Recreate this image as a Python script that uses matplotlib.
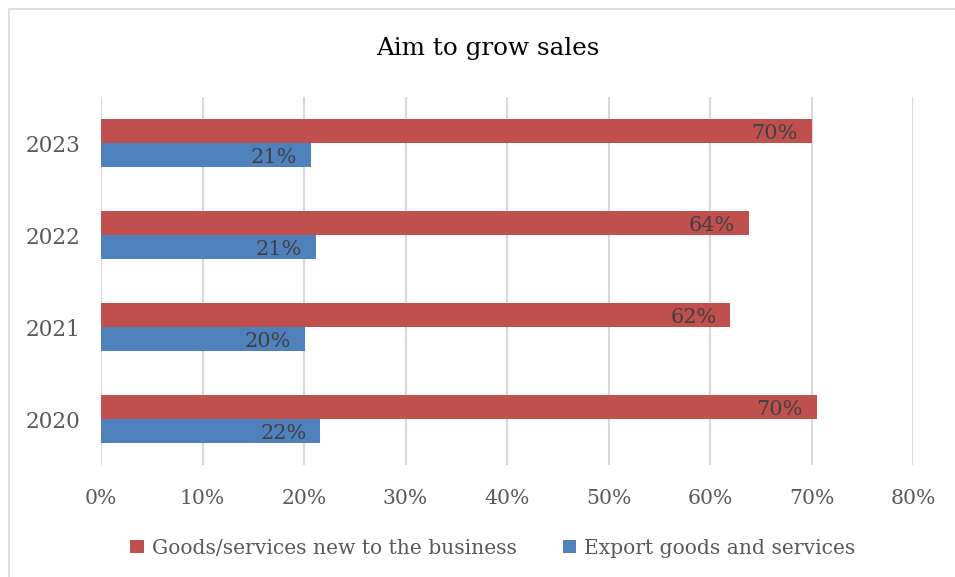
import matplotlib
matplotlib.use("Agg")
import matplotlib.pyplot as plt
from matplotlib.patches import Rectangle
import numpy as np

years = ["2020", "2021", "2022", "2023"]
new_goods = [70.5, 62.0, 63.8, 70.0]
export_goods = [21.6, 20.1, 21.2, 20.7]
series_names = ["Goods/services new to the business", "Export goods and services"]
x_ticks = [0, 10, 20, 30, 40, 50, 60, 70, 80]

RED = "#C0504D"
BLUE = "#4F81BD"
TXT = "#595959"
SERIF = ["DejaVu Serif"]

fig = plt.figure(figsize=(9.55, 5.77), dpi=100)
fig.patch.set_facecolor("white")
fig.patches.append(Rectangle((9/955, -0.1), 1.2, 1 - 9/577 + 0.1, transform=fig.transFigure,
                             fill=False, edgecolor="#D9D9D9", linewidth=1.2))

ax = fig.add_axes([101/955, 1 - 465/577, (913 - 101)/955, (465 - 97)/577])
y = np.arange(len(years))
h = 0.26
ax.barh(y + h/2, new_goods, height=h, color=RED, label=series_names[0], zorder=3)
ax.barh(y - h/2, export_goods, height=h, color=BLUE, label=series_names[1], zorder=3)

for yi, v in zip(y + h/2, new_goods):
    ax.annotate(f"{v:.0f}%", (v, yi), xytext=(-10, -1.5), textcoords="offset points",
                ha="right", va="center", fontsize=15, color="#404040", family=SERIF, zorder=4)
for yi, v in zip(y - h/2, export_goods):
    ax.annotate(f"{v:.0f}%", (v, yi), xytext=(-10, -1.5), textcoords="offset points",
                ha="right", va="center", fontsize=15, color="#404040", family=SERIF, zorder=4)

ax.set_xlim(0, 80)
ax.set_ylim(-0.5, len(years) - 0.5)
ax.set_xticks(x_ticks)
ax.set_xticklabels([f"{t}%" for t in x_ticks], fontsize=14.7, color=TXT, family=SERIF)
ax.set_yticks(y)
ax.set_yticklabels(years, fontsize=15.5, color=TXT, family=SERIF)
ax.tick_params(axis="both", length=0)
ax.tick_params(axis="x", pad=17)
ax.tick_params(axis="y", pad=15)
ax.grid(axis="x", color="#D9D9D9", linewidth=1.5, zorder=0)
for s in ax.spines.values():
    s.set_visible(False)

fig.text(488/955, 1 - 49/577, "Aim to grow sales", ha="center", va="center",
         fontsize=17.7, color="black", family=SERIF)

leg = fig.legend(loc="center", bbox_to_anchor=(493/955, 1 - 548/577), ncol=2, frameon=False,
                 prop={"family": SERIF, "size": 14.6}, handlelength=0.65, handleheight=0.65,
                 handletextpad=0.4, columnspacing=2.3)
for t in leg.get_texts():
    t.set_color(TXT)

fig.savefig("out.png", dpi=100, facecolor="white")
